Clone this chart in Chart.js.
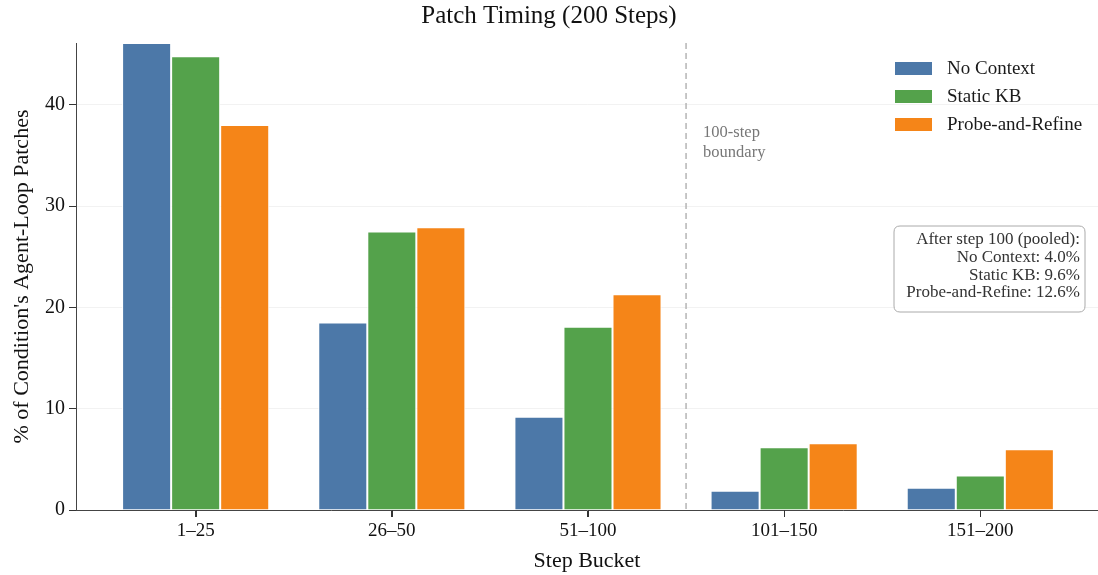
<!DOCTYPE html>
<html>
<head>
<meta charset="utf-8">
<script src="https://cdn.jsdelivr.net/npm/chart.js@4/dist/chart.umd.min.js"></script>
<style>
  html,body{margin:0;padding:0;background:#fff}
  #wrap{width:1098px;height:575px;position:relative}
</style>
</head>
<body>
<div id="wrap"><canvas id="c"></canvas></div>
<script>
// data
const buckets = ['1\u201325', '26\u201350', '51\u2013100', '101\u2013150', '151\u2013200'];
const noContext = [46.1, 18.5, 9.2, 1.9, 2.2];
const staticKB = [44.8, 27.5, 18.1, 6.2, 3.4];
const probeRefine = [38.0, 27.9, 21.3, 6.6, 6.0];
const seriesNames = ['No Context', 'Static KB', 'Probe-and-Refine'];
const seriesColors = ['#4c78a8', '#54a24b', '#f58518'];
const yTicks = [0, 10, 20, 30, 40];
const boundaryAt = 2.5;
const boundaryText = ['100-step', 'boundary'];
const pooledText = ['After step 100 (pooled):', 'No Context: 4.0%', 'Static KB: 9.6%', 'Probe-and-Refine: 12.6%'];

const SERIF = '"Liberation Serif", "Times New Roman", serif';

function pts(vals){ return vals.map((v,i)=>({x:i, y:v})); }

const extras = {
  id: 'extras',
  afterDatasetsDraw(chart){
    const ctx = chart.ctx, a = chart.chartArea;
    const xs = chart.scales.x;
    ctx.save();
    // x tick marks under the axis
    ctx.strokeStyle = '#333'; ctx.lineWidth = 1;
    xs.ticks.forEach(t=>{
      const px = Math.round(xs.getPixelForValue(t.value)) + 0.5;
      ctx.beginPath(); ctx.moveTo(px, a.bottom); ctx.lineTo(px, a.bottom + 7); ctx.stroke();
    });
    // boundary line
    const bx = xs.getPixelForValue(boundaryAt);
    ctx.strokeStyle = '#b5b5b5'; ctx.lineWidth = 1.5; ctx.setLineDash([6,4]);
    ctx.beginPath(); ctx.moveTo(bx, a.top); ctx.lineTo(bx, a.bottom); ctx.stroke();
    ctx.setLineDash([]);
    ctx.fillStyle = '#777'; ctx.font = '16.5px ' + SERIF; ctx.textAlign = 'left'; ctx.textBaseline = 'middle';
    boundaryText.forEach((t,i)=> ctx.fillText(t, bx + 17, 133 + i*20));

    // legend
    ctx.font = '19px ' + SERIF; ctx.textBaseline = 'middle';
    seriesNames.forEach((n,i)=>{
      const y = 69 + i*28;
      ctx.fillStyle = seriesColors[i];
      ctx.fillRect(895, y-7, 37, 13);
      ctx.fillStyle = '#1a1a1a';
      ctx.fillText(n, 947, y);
    });

    // pooled box
    const bx0 = 894, by0 = 226, bw = 191, bh = 86, r = 6;
    ctx.fillStyle = 'rgba(255,255,255,0.9)'; ctx.strokeStyle = '#aaa'; ctx.lineWidth = 1;
    ctx.beginPath();
    ctx.moveTo(bx0+r, by0); ctx.lineTo(bx0+bw-r, by0); ctx.quadraticCurveTo(bx0+bw, by0, bx0+bw, by0+r);
    ctx.lineTo(bx0+bw, by0+bh-r); ctx.quadraticCurveTo(bx0+bw, by0+bh, bx0+bw-r, by0+bh);
    ctx.lineTo(bx0+r, by0+bh); ctx.quadraticCurveTo(bx0, by0+bh, bx0, by0+bh-r);
    ctx.lineTo(bx0, by0+r); ctx.quadraticCurveTo(bx0, by0, bx0+r, by0);
    ctx.closePath(); ctx.fill(); ctx.stroke();
    ctx.fillStyle = '#333'; ctx.font = '17px ' + SERIF; ctx.textAlign = 'right';
    pooledText.forEach((t,i)=> ctx.fillText(t, 1080, 240 + i*17.6));
    ctx.restore();
  }
};

new Chart(document.getElementById('c'), {
  type: 'bar',
  data: {
    datasets: [noContext, staticKB, probeRefine].map((vals,i)=>({
      label: seriesNames[i],
      data: pts(vals),
      backgroundColor: seriesColors[i],
      borderColor: '#ffffff',
      borderWidth: 1,
      categoryPercentage: 0.75,
      barPercentage: 1.0
    }))
  },
  options: {
    responsive: true, maintainAspectRatio: false, animation: false,
    layout: { padding: { left: 0, right: 0, top: 0, bottom: 0 } },
    plugins: {
      legend: { display: false },
      tooltip: { enabled: false },
      title: {
        display: true, text: 'Patch Timing (200 Steps)', color: '#111',
        font: { family: SERIF, size: 25, weight: 'normal' },
        padding: { top: 1, bottom: 12 }
      }
    },
    scales: {
      x: {
        type: 'linear', min: -0.61, max: 4.6, offset: false,
        afterBuildTicks: s => { s.ticks = buckets.map((_,i)=>({value:i})); },
        afterFit: s => { s.height = 65; },
        ticks: { callback: v => buckets[v], color: '#111', font: { family: SERIF, size: 19 }, padding: 3, maxRotation: 0 },
        grid: { display: true, offset: false, drawOnChartArea: false, tickLength: 7, tickColor: '#333', tickWidth: 1 },
        border: { display: true, color: '#444', width: 1 },
        title: { display: true, text: 'Step Bucket', color: '#111', font: { family: SERIF, size: 22 }, padding: { top: 0, bottom: 1 } }
      },
      y: {
        min: 0, max: 46.1,
        afterBuildTicks: s => { s.ticks = yTicks.map(v=>({value:v})); },
        afterFit: s => { s.width = 76; },
        ticks: { color: '#111', font: { family: SERIF, size: 20 }, padding: 4 },
        grid: { color: 'rgba(0,0,0,0.05)', tickLength: 7, tickColor: '#333' },
        border: { display: true, color: '#444', width: 1 },
        title: { display: true, text: "% of Condition's Agent-Loop Patches", color: '#111', font: { family: SERIF, size: 22 }, padding: { top: 9, bottom: 0 } }
      }
    }
  },
  plugins: [extras]
});
</script>
</body>
</html>
